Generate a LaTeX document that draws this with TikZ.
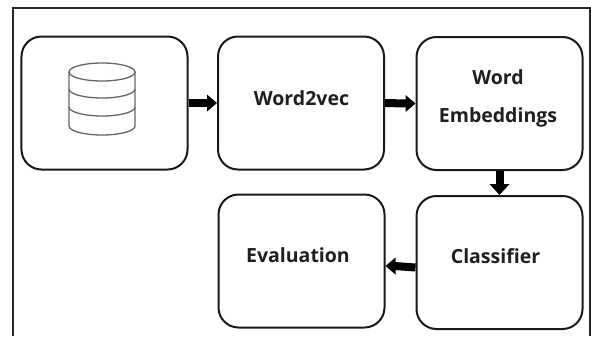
\documentclass[tikz,border=0pt]{standalone}
\usepackage{fontspec}
\setmainfont{Open Sans}
\usetikzlibrary{calc}
\begin{document}
\begin{tikzpicture}[x=1bp,y=-1bp,
  stagebox/.style={draw=black!90,line width=2bp,rectangle,rounded corners=20bp,
    minimum width=166bp,minimum height=133bp,inner sep=0pt,fill=white},
  lbl/.style={inner sep=0pt,anchor=base,text=black!88,
    font=\fontsize{19.5bp}{38bp}\selectfont\bfseries,align=center},
  shaft/.style={line width=8bp,black},
  head/.style={fill=black},
  dbline/.style={draw=black!60,line width=1.3bp}]
\useasboundingbox (0,0) rectangle (591,336);
% outer frame
\draw[line width=1.6bp,black!85] (13,336) -- (13,8) -- (590,8) -- (590,336);
% boxes
\node[stagebox] (b1) at (104.5,103) {};
\node[stagebox] (b2) at (301,103) {};
\node[stagebox] (b3) at (499.5,103.5) {};
\node[stagebox] (b4) at (499.5,262.5) {};
\node[stagebox] (b5) at (301.5,261) {};
% labels
\node[lbl] (t2) at (301.5,105) {Word2vec};
\node[lbl] (t3a) at (498,84) {Word};
\node[lbl] (t3b) at (498,122) {Embeddings};
\node[lbl] (t4) at (495.5,263) {Classifier};
\node[lbl] (t5) at (298,262) {Evaluation};
% database icon
\draw[dbline] (69,72) -- (69,126) arc[start angle=180,end angle=360,x radius=33,y radius=-9] -- (135,72);
\draw[dbline] (102,72) ellipse[x radius=33,y radius=9];
\draw[dbline] (69,89) arc[start angle=180,end angle=360,x radius=33,y radius=-9];
\draw[dbline] (69,107) arc[start angle=180,end angle=360,x radius=33,y radius=-9];
% arrow b1 -> b2
\draw[shaft] (b1.east) -- ($(b2.west)+(-9,0)$);
\fill[head] ($(b2.west)+(-10,-8.5)$) -- (b2.west) -- ($(b2.west)+(-10,8.5)$) -- cycle;
% arrow b2 -> b3
\draw[shaft] (b2.east) -- ($(b3.west)+(-9,0)$);
\fill[head] ($(b3.west)+(-10,-8.5)$) -- (b3.west) -- ($(b3.west)+(-10,8.5)$) -- cycle;
% arrow b3 -> b4
\draw[shaft] (b3.south) -- ($(b4.north)+(0,-10)$);
\fill[head] ($(b4.north)+(-10,-11)$) -- (b4.north) -- ($(b4.north)+(10,-11)$) -- cycle;
% arrow b4 -> b5
\draw[shaft] ([yshift=-5bp]b4.west) -- ($([yshift=-5bp]b5.east)+(9,0)$);
\fill[head] ($([yshift=-5bp]b5.east)+(10,-8.5)$) -- ([yshift=-5bp]b5.east) -- ($([yshift=-5bp]b5.east)+(10,8.5)$) -- cycle;
\end{tikzpicture}
\end{document}
